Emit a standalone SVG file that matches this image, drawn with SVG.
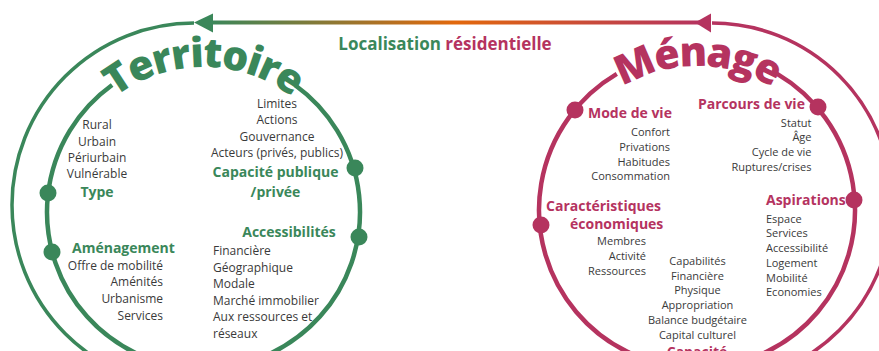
<svg xmlns="http://www.w3.org/2000/svg" width="879" height="351" viewBox="0 0 879 351">
  <defs>
    <linearGradient id="flow" x1="210" y1="0" x2="700" y2="0" gradientUnits="userSpaceOnUse">
      <stop offset="0" stop-color="#3a875a"/>
      <stop offset="0.5" stop-color="#e2680c"/>
      <stop offset="1" stop-color="#b5335f"/>
    </linearGradient>
    <!-- baseline circles for the curved titles -->
    <path id="arcT" d="M 58.5 212 A 145 145 0 0 1 348.5 212"/>
    <path id="arcM" d="M 553 210 A 144 144 0 0 1 841 210"/>
  </defs>
  <style>
    text { font-family: "Open Sans", "Noto Sans", "DejaVu Sans", sans-serif; }
    .item { font-size: 12px; fill: #3a3a3a; }
    .item-s { font-size: 11px; fill: #3a3a3a; }
    .head { font-size: 14px; font-weight: 700; }
    .g { fill: #3a875a; }
    .p { fill: #b5335f; }
    .ring-g { fill: none; stroke: #3a875a; }
    .ring-p { fill: none; stroke: #b5335f; }
    .outer { stroke-width: 3.5; }
    .inner { stroke-width: 4.5; }
    .title { font-size: 41px; font-weight: 800; letter-spacing: -1.5px; }
    .mid { text-anchor: middle; }
    .end { text-anchor: end; }
  </style>

  <!-- Territoire side -->
  <g id="territoire">
    <path class="ring-g outer" d="M 194 23 A 182 182 0 0 0 194 387"/>
    <path class="ring-g inner" d="M 294.9 85 A 156.5 156.5 0 1 1 112.1 85"/>
    <text class="title g"><textPath href="#arcT" startOffset="50%" text-anchor="middle">Territoire</textPath></text>
  </g>

  <!-- Ménage side -->
  <g id="menage">
    <path class="ring-p outer" d="M 712 23 A 180 180 0 0 1 712 383"/>
    <path class="ring-p inner" d="M 777.2 73.9 A 158 158 0 1 1 616.8 73.9"/>
    <text class="title p" style="font-size:41px;letter-spacing:-2px"><textPath href="#arcM" startOffset="50%" text-anchor="middle">Ménage</textPath></text>
  </g>

  <!-- flow between the two spheres -->
  <g id="connectors">
    <line x1="210" y1="22.5" x2="700" y2="22.5" stroke="url(#flow)" stroke-width="4"/>
    <polygon points="194,22.5 213,13.5 213,32.5" fill="#3a875a"/>
    <polygon points="695,22.5 711,13.5 711,32.5" fill="#b5335f"/>
  </g>

  <g id="localisation">
    <text x="445" y="50" class="mid" style="font-size:17px;font-weight:700"><tspan class="g">Localisation</tspan> <tspan class="p">résidentielle</tspan></text>
  </g>

  <!-- Territoire nodes -->
  <g id="type">
    <circle cx="48" cy="193" r="8.5" class="g"/>
    <text class="item mid" x="97" y="129">Rural</text>
    <text class="item mid" x="97" y="146">Urbain</text>
    <text class="item mid" x="97" y="162">Périurbain</text>
    <text class="item mid" x="97" y="178">Vulnérable</text>
    <text class="head g mid" x="97" y="197">Type</text>
  </g>

  <g id="capacite-publique">
    <circle cx="355" cy="168" r="8.5" class="g"/>
    <text class="item mid" x="277" y="107.5">Limites</text>
    <text class="item mid" x="277" y="124">Actions</text>
    <text class="item mid" x="277" y="141">Gouvernance</text>
    <text class="item mid" x="277" y="157">Acteurs (privés, publics)</text>
    <text class="head g mid" x="275.5" y="176.5">Capacité publique</text>
    <text class="head g mid" x="275.5" y="196.5">/privée</text>
  </g>

  <g id="accessibilites">
    <circle cx="359" cy="237" r="8.5" class="g"/>
    <text class="head g mid" x="289" y="237">Accessibilités</text>
    <text class="item" x="213" y="255">Financière</text>
    <text class="item" x="213" y="271.5">Géographique</text>
    <text class="item" x="213" y="288">Modale</text>
    <text class="item" x="213" y="304.5">Marché immobilier</text>
    <text class="item" x="213" y="321">Aux ressources et</text>
    <text class="item" x="213" y="338">réseaux</text>
  </g>

  <g id="amenagement">
    <circle cx="52" cy="252" r="8.5" class="g"/>
    <text class="head g" x="72" y="253">Aménagement</text>
    <text class="item end" x="163" y="269.5">Offre de mobilité</text>
    <text class="item end" x="163" y="286">Aménités</text>
    <text class="item end" x="163" y="303">Urbanisme</text>
    <text class="item end" x="163" y="319.5">Services</text>
  </g>

  <!-- Ménage nodes -->
  <g id="mode-de-vie">
    <circle cx="575" cy="110" r="8.5" class="p"/>
    <text class="head p" x="588" y="118">Mode de vie</text>
    <text class="item-s end" x="670" y="136">Confort</text>
    <text class="item-s end" x="670" y="150.5">Privations</text>
    <text class="item-s end" x="670" y="165.5">Habitudes</text>
    <text class="item-s end" x="670" y="180">Consommation</text>
  </g>

  <g id="parcours-de-vie">
    <circle cx="818" cy="107" r="8.5" class="p"/>
    <text class="head p" x="698" y="109">Parcours de vie</text>
    <text class="item-s end" x="811.5" y="126.5">Statut</text>
    <text class="item-s end" x="811.5" y="141.3">Âge</text>
    <text class="item-s end" x="811.5" y="156">Cycle de vie</text>
    <text class="item-s end" x="811.5" y="170.8">Ruptures/crises</text>
  </g>

  <g id="aspirations">
    <circle cx="854" cy="200" r="8.5" class="p"/>
    <text class="head p" x="766" y="205">Aspirations</text>
    <text class="item-s" x="766" y="222.5">Espace</text>
    <text class="item-s" x="766" y="237.3">Services</text>
    <text class="item-s" x="766" y="252">Accessibilité</text>
    <text class="item-s" x="766" y="266.8">Logement</text>
    <text class="item-s" x="766" y="281.5">Mobilité</text>
    <text class="item-s" x="766" y="296.3">Economies</text>
  </g>

  <g id="caracteristiques-economiques">
    <circle cx="541" cy="225" r="8.5" class="p"/>
    <text class="head p" x="546" y="210.5">Caractéristiques</text>
    <text class="head p" x="570" y="229">économiques</text>
    <text class="item-s end" x="646" y="245">Membres</text>
    <text class="item-s end" x="646" y="260">Activité</text>
    <text class="item-s end" x="646" y="275">Ressources</text>
  </g>

  <g id="capacite">
    <text class="item-s mid" x="697.5" y="265">Capabilités</text>
    <text class="item-s mid" x="697.5" y="279.7">Financière</text>
    <text class="item-s mid" x="697.5" y="294.4">Physique</text>
    <text class="item-s mid" x="697.5" y="309.1">Appropriation</text>
    <text class="item-s mid" x="697.5" y="323.8">Balance budgétaire</text>
    <text class="item-s mid" x="697.5" y="338.5">Capital culturel</text>
    <text class="head p mid" x="697" y="357">Capacité</text>
  </g>
</svg>
